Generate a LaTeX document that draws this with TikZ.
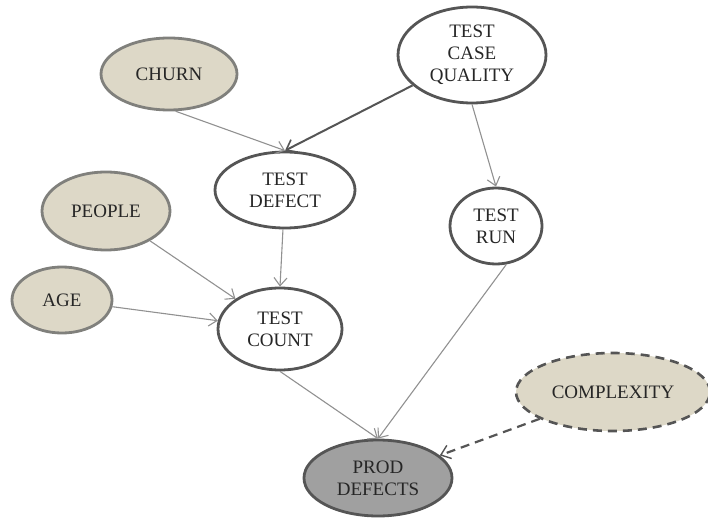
\documentclass[tikz,border=0pt]{standalone}
\usepackage{fontspec}
\setmainfont{Liberation Serif}
\usetikzlibrary{shapes.geometric,arrows.meta}
\definecolor{beige}{RGB}{221,216,199}
\definecolor{rimlight}{RGB}{128,128,124}
\definecolor{rimdark}{RGB}{85,85,85}
\definecolor{edgegray}{RGB}{145,145,145}
\definecolor{proddark}{RGB}{160,160,160}
\tikzset{
  factor/.style={ellipse, inner sep=0pt, align=center, font=\fontsize{19}{22}\selectfont, text=black!85},
  cause/.style={factor, fill=beige, draw=rimlight, line width=2.8pt},
  metric/.style={factor, fill=white, draw=rimdark, line width=2.8pt},
  outcome/.style={factor, fill=proddark, draw=rimdark, line width=2.8pt},
  hidden/.style={factor, fill=beige, draw=rimdark, line width=2.6pt, dash pattern=on 9pt off 6pt},
  link/.style={draw=edgegray, line width=1.1pt, -{Straight Barb[length=8pt,width=13pt,line width=1.1pt]}},
  strong/.style={draw=rimdark, line width=2pt, -{Straight Barb[length=9pt,width=14pt,line width=1.6pt]}},
  latent/.style={draw=rimdark, line width=2.2pt, dash pattern=on 9pt off 6pt, -{Straight Barb[length=9pt,width=14pt,line width=1.4pt]}}
}
\begin{document}
\begin{tikzpicture}[x=1pt,y=-1pt]
\useasboundingbox (0,0) rectangle (708,518);
\node[cause,  minimum width=136pt, minimum height=72pt] (churn)  at (169,74)  {CHURN};
\node[metric, minimum width=148pt, minimum height=96pt] (tcq)    at (472,55)  {TEST\\CASE\\QUALITY};
\node[metric, minimum width=140pt, minimum height=76pt] (defect) at (285,190) {TEST\\DEFECT};
\node[metric, minimum width=92pt,  minimum height=76pt] (run)    at (496,226) {TEST\\RUN};
\node[cause,  minimum width=128pt, minimum height=78pt] (people) at (106,211) {PEOPLE};
\node[cause,  minimum width=100pt, minimum height=66pt] (age)    at (62,300)  {AGE};
\node[metric, minimum width=124pt, minimum height=82pt] (count)  at (280,329) {TEST\\COUNT};
\node[outcome,minimum width=148pt, minimum height=76pt] (prod)   at (378,478) {PROD\\DEFECTS};
\node[hidden, minimum width=194pt, minimum height=78pt] (cplx)   at (613,392) {COMPLEXITY};

\draw[link]   (churn.-80)   -- (defect.north);
\draw[strong] (tcq)         -- (defect.north);
\draw[link]   (tcq.south)   -- (run.north);
\draw[link]   (defect)      -- (count.north);
\draw[link]   (people)      -- (count);
\draw[link]   (age)         -- (count);
\draw[link]   (count.south) -- (prod.north);
\draw[link]   (run.-75)     -- (prod.north);
\draw[latent] (cplx)        -- (prod);
\end{tikzpicture}
\end{document}
